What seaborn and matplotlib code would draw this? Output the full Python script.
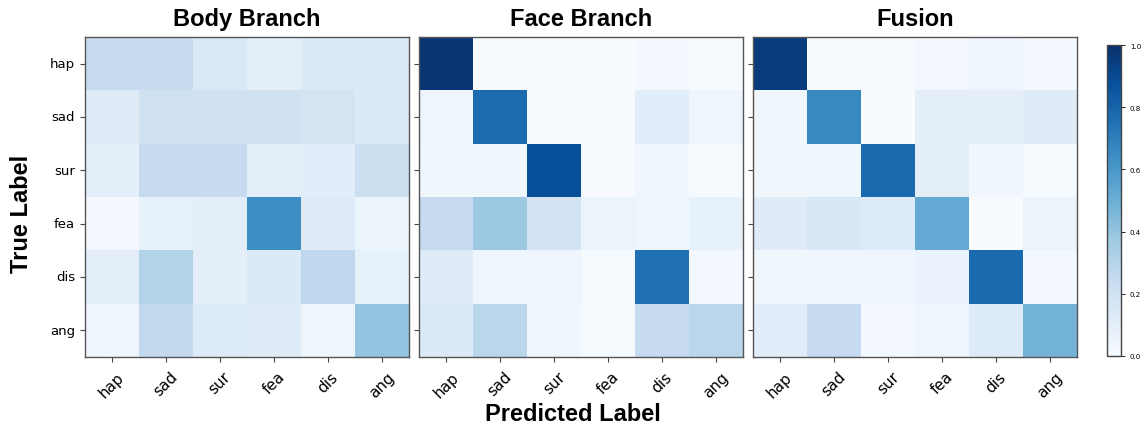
import numpy as np
import seaborn as sns
import matplotlib.pyplot as plt

# emotion classes
labels = ["hap", "sad", "sur", "fea", "dis", "ang"]

# normalised confusion matrices (rows = true, cols = predicted)
body = [
    [0.25, 0.25, 0.15, 0.10, 0.14, 0.14],
    [0.12, 0.20, 0.20, 0.20, 0.18, 0.14],
    [0.09, 0.25, 0.25, 0.10, 0.11, 0.22],
    [0.02, 0.08, 0.10, 0.64, 0.12, 0.06],
    [0.10, 0.31, 0.10, 0.14, 0.27, 0.08],
    [0.05, 0.26, 0.13, 0.12, 0.05, 0.40],
]
face = [
    [0.98, 0.00, 0.00, 0.00, 0.02, 0.01],
    [0.05, 0.77, 0.00, 0.01, 0.11, 0.05],
    [0.04, 0.04, 0.88, 0.00, 0.04, 0.01],
    [0.25, 0.38, 0.19, 0.06, 0.05, 0.08],
    [0.12, 0.05, 0.05, 0.01, 0.75, 0.02],
    [0.14, 0.29, 0.04, 0.01, 0.25, 0.29],
]
fusion = [
    [0.95, 0.00, 0.01, 0.02, 0.05, 0.02],
    [0.04, 0.66, 0.00, 0.09, 0.09, 0.12],
    [0.04, 0.04, 0.78, 0.10, 0.04, 0.01],
    [0.12, 0.16, 0.13, 0.52, 0.00, 0.06],
    [0.04, 0.05, 0.05, 0.07, 0.78, 0.02],
    [0.11, 0.25, 0.02, 0.05, 0.13, 0.48],
]
titles = ["Body Branch", "Face Branch", "Fusion"]

fig = plt.figure(figsize=(11.46, 4.27), dpi=100)
lefts = [0.074, 0.3656, 0.657]
axes = [fig.add_axes([l, 0.162, 0.283, 0.749]) for l in lefts]
cax = fig.add_axes([0.966, 0.164, 0.012, 0.728])

bold = dict(family=["Liberation Sans", "DejaVu Sans"], weight="bold", size=17)

for i, (ax, mat, title) in enumerate(zip(axes, [body, face, fusion], titles)):
    sns.heatmap(np.array(mat), ax=ax, cmap="Blues", vmin=0, vmax=1,
                square=False, cbar=(i == 2), cbar_ax=cax if i == 2 else None,
                xticklabels=labels, yticklabels=labels if i == 0 else False)
    for s in ax.spines.values():
        s.set_visible(True)
        s.set_color("#555555")
        s.set_linewidth(1)
    ax.set_title(title, pad=9, **bold)
    ax.tick_params(axis="both", length=3.5, width=0.8, color="#444444")
    ax.tick_params(axis="x", labelsize=11, pad=5)
    ax.tick_params(axis="y", labelsize=9.5)
    plt.setp(ax.get_xticklabels(), rotation=45, ha="center")
    if i == 0:
        plt.setp(ax.get_yticklabels(), rotation=0)
    else:
        ax.set_yticks(np.arange(6) + 0.5)
        ax.set_yticklabels([])

cbar = axes[2].collections[0].colorbar
cbar.set_ticks([0.0, 0.2, 0.4, 0.6, 0.8, 1.0])
cbar.ax.tick_params(labelsize=5, length=3, width=0.6)
cbar.outline.set_edgecolor("#444444")
cbar.outline.set_linewidth(1)

fig.text(0.019, 0.5, "True Label", rotation=90, ha="center", va="center", **bold)
fig.text(0.5, 0.03, "Predicted Label", ha="center", va="center", **bold)

fig.savefig("out.png", dpi=100)
